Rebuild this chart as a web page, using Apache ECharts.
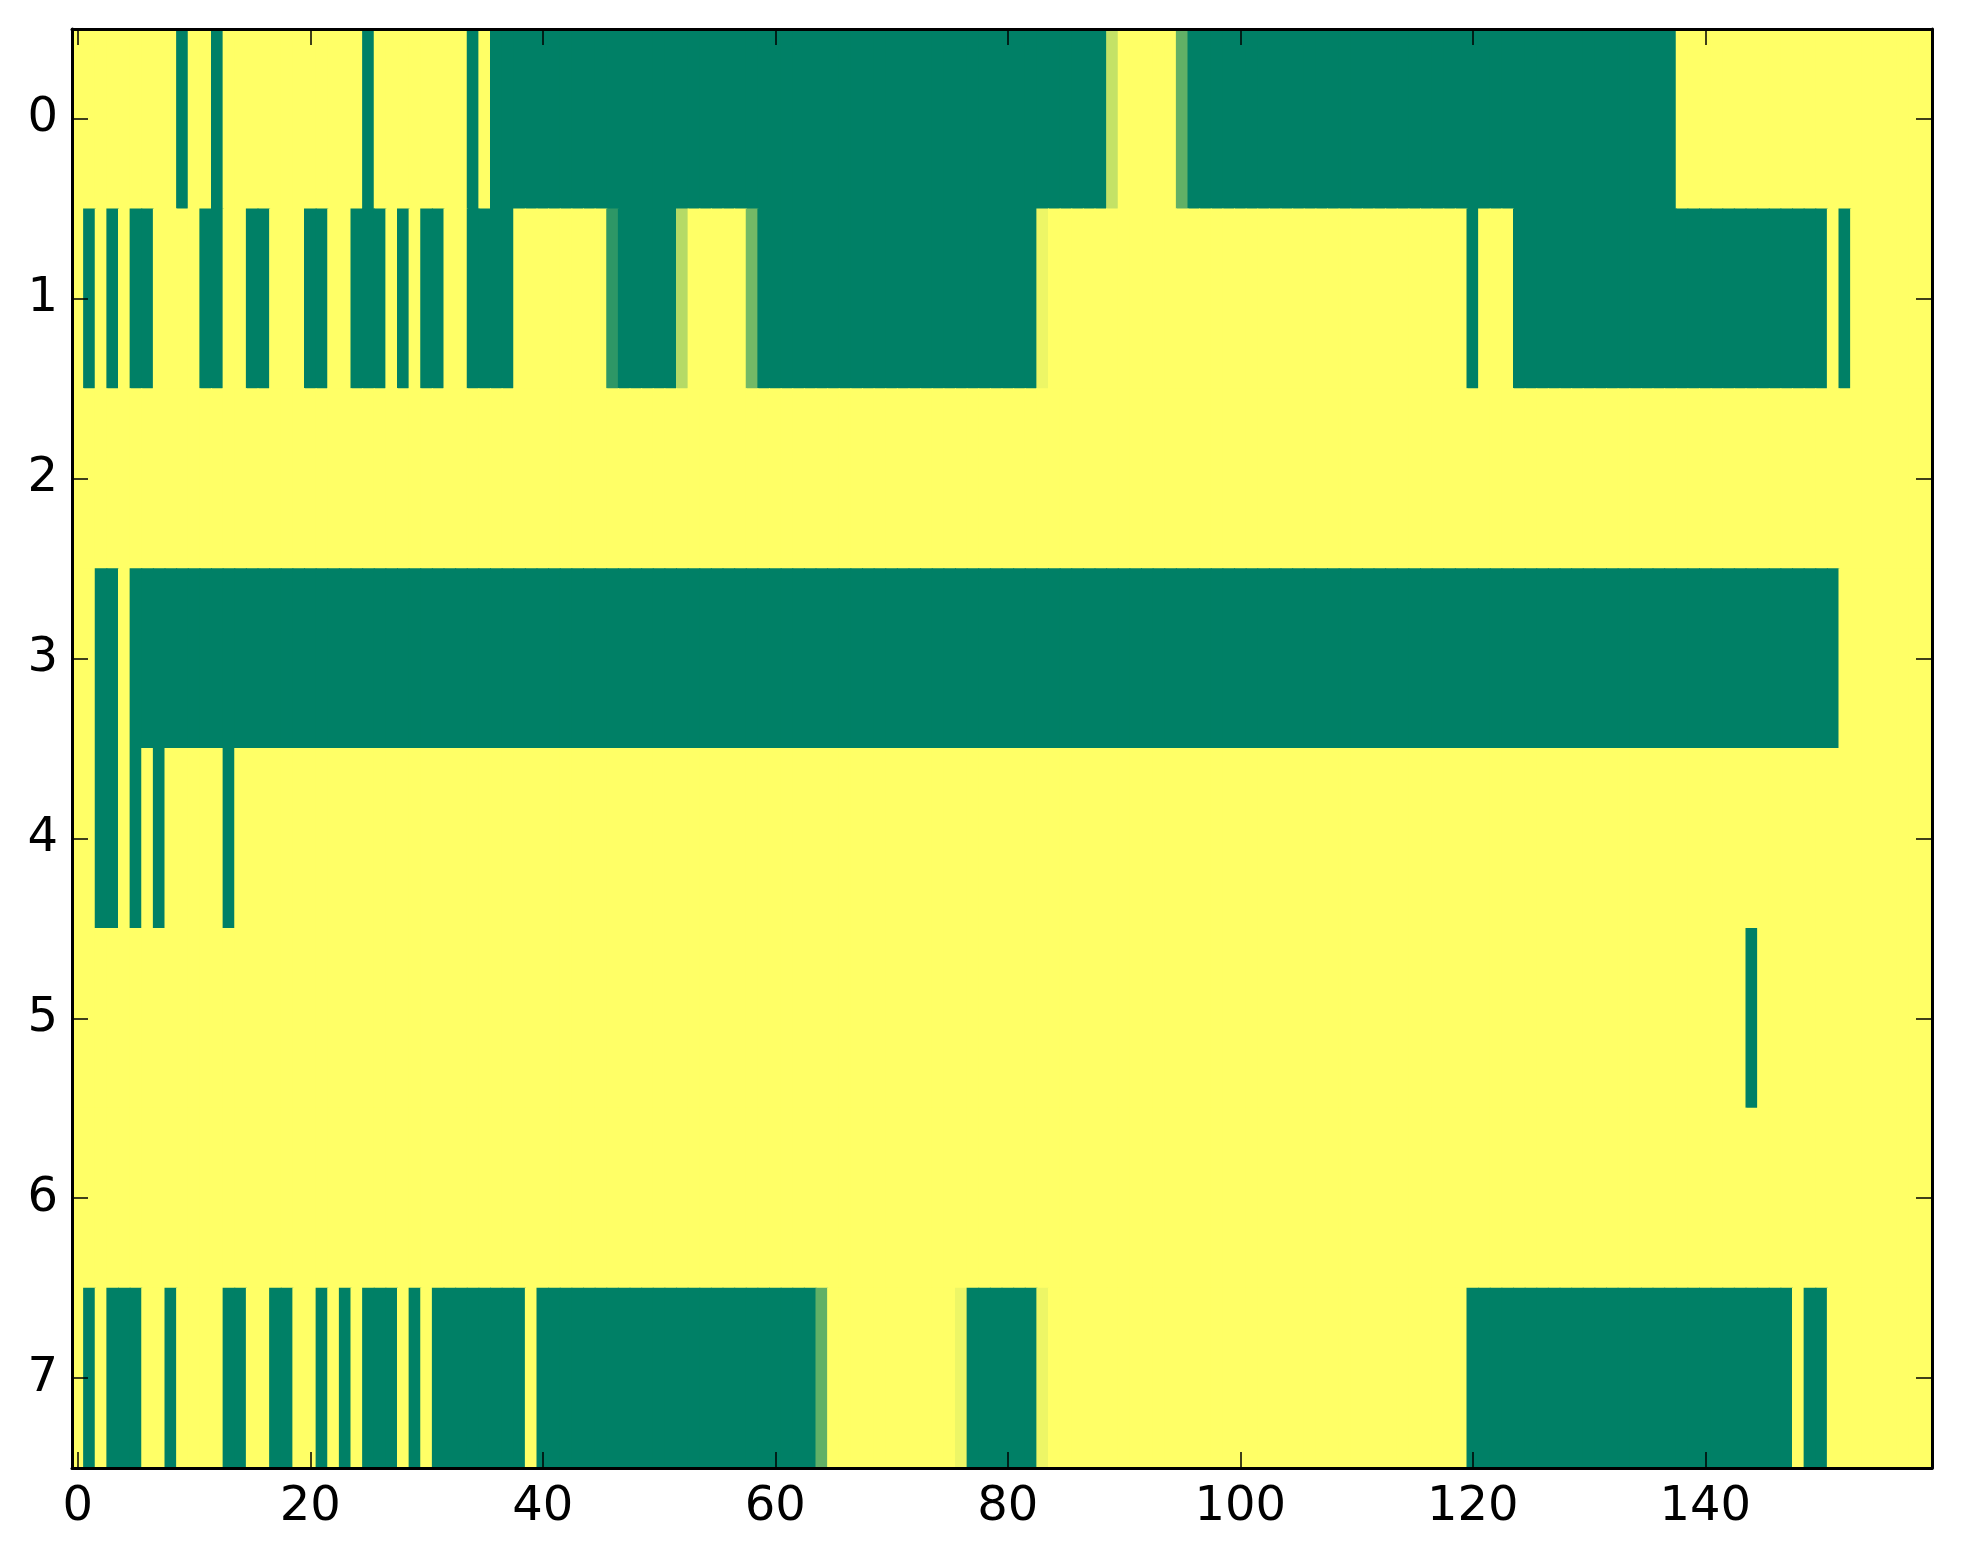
<!DOCTYPE html>
<html><head><meta charset="utf-8">
<script src="https://cdn.jsdelivr.net/npm/echarts@6/dist/echarts.min.js"></script>
<style>html,body{margin:0;padding:0;background:#fff}#c{width:1963px;height:1564px}</style>
</head><body><div id="c"></div>
<script>
// column categories 0..159 and row categories 0..7
const xCategories = Array.from({length: 160}, (_, i) => String(i));
const yCategories = ['0', '1', '2', '3', '4', '5', '6', '7'];
const xTickLabels = ['0', '20', '40', '60', '80', '100', '120', '140'];

const row0 = [
  0,0,0,0,0,0,0,0,0,1,
  0,0,1,0,0,0,0,0,0,0,
  0,0,0,0,0,1,0,0,0,0,
  0,0,0,0,1,0,1,1,1,1,
  1,1,1,1,1,1,1,1,1,1,
  1,1,1,1,1,1,1,1,1,1,
  1,1,1,1,1,1,1,1,1,1,
  1,1,1,1,1,1,1,1,1,1,
  1,1,1,1,1,1,1,1,1,0.23,
  0,0,0,0,0,0.62,1,1,1,1,
  1,1,1,1,1,1,1,1,1,1,
  1,1,1,1,1,1,1,1,1,1,
  1,1,1,1,1,1,1,1,1,1,
  1,1,1,1,1,1,1,1,0,0,
  0,0,0,0,0,0,0,0,0,0,
  0,0,0,0,0,0,0,0,0,0
];
const row1 = [
  0,1,0,1,0,1,1,0,0,0,
  0,1,1,0,0,1,1,0,0,0,
  1,1,0,0,1,1,1,0,1,0,
  1,1,0,0,1,1,1,1,0,0,
  0,0,0,0,0,0,0.82,1,1,1,
  1,1,0.29,0,0,0,0,0,0.55,1,
  1,1,1,1,1,1,1,1,1,1,
  1,1,1,1,1,1,1,1,1,1,
  1,1,1,0.07,0,0,0,0,0,0,
  0,0,0,0,0,0,0,0,0,0,
  0,0,0,0,0,0,0,0,0,0,
  0,0,0,0,0,0,0,0,0,0,
  1,0,0,0,1,1,1,1,1,1,
  1,1,1,1,1,1,1,1,1,1,
  1,1,1,1,1,1,1,1,1,1,
  1,0,1,0,0,0,0,0,0,0
];
const row2 = [
  0,0,0,0,0,0,0,0,0,0,
  0,0,0,0,0,0,0,0,0,0,
  0,0,0,0,0,0,0,0,0,0,
  0,0,0,0,0,0,0,0,0,0,
  0,0,0,0,0,0,0,0,0,0,
  0,0,0,0,0,0,0,0,0,0,
  0,0,0,0,0,0,0,0,0,0,
  0,0,0,0,0,0,0,0,0,0,
  0,0,0,0,0,0,0,0,0,0,
  0,0,0,0,0,0,0,0,0,0,
  0,0,0,0,0,0,0,0,0,0,
  0,0,0,0,0,0,0,0,0,0,
  0,0,0,0,0,0,0,0,0,0,
  0,0,0,0,0,0,0,0,0,0,
  0,0,0,0,0,0,0,0,0,0,
  0,0,0,0,0,0,0,0,0,0
];
const row3 = [
  0,0,1,1,0,1,1,1,1,1,
  1,1,1,1,1,1,1,1,1,1,
  1,1,1,1,1,1,1,1,1,1,
  1,1,1,1,1,1,1,1,1,1,
  1,1,1,1,1,1,1,1,1,1,
  1,1,1,1,1,1,1,1,1,1,
  1,1,1,1,1,1,1,1,1,1,
  1,1,1,1,1,1,1,1,1,1,
  1,1,1,1,1,1,1,1,1,1,
  1,1,1,1,1,1,1,1,1,1,
  1,1,1,1,1,1,1,1,1,1,
  1,1,1,1,1,1,1,1,1,1,
  1,1,1,1,1,1,1,1,1,1,
  1,1,1,1,1,1,1,1,1,1,
  1,1,1,1,1,1,1,1,1,1,
  1,1,0,0,0,0,0,0,0,0
];
const row4 = [
  0,0,1,1,0,1,0,1,0,0,
  0,0,0,1,0,0,0,0,0,0,
  0,0,0,0,0,0,0,0,0,0,
  0,0,0,0,0,0,0,0,0,0,
  0,0,0,0,0,0,0,0,0,0,
  0,0,0,0,0,0,0,0,0,0,
  0,0,0,0,0,0,0,0,0,0,
  0,0,0,0,0,0,0,0,0,0,
  0,0,0,0,0,0,0,0,0,0,
  0,0,0,0,0,0,0,0,0,0,
  0,0,0,0,0,0,0,0,0,0,
  0,0,0,0,0,0,0,0,0,0,
  0,0,0,0,0,0,0,0,0,0,
  0,0,0,0,0,0,0,0,0,0,
  0,0,0,0,0,0,0,0,0,0,
  0,0,0,0,0,0,0,0,0,0
];
const row5 = [
  0,0,0,0,0,0,0,0,0,0,
  0,0,0,0,0,0,0,0,0,0,
  0,0,0,0,0,0,0,0,0,0,
  0,0,0,0,0,0,0,0,0,0,
  0,0,0,0,0,0,0,0,0,0,
  0,0,0,0,0,0,0,0,0,0,
  0,0,0,0,0,0,0,0,0,0,
  0,0,0,0,0,0,0,0,0,0,
  0,0,0,0,0,0,0,0,0,0,
  0,0,0,0,0,0,0,0,0,0,
  0,0,0,0,0,0,0,0,0,0,
  0,0,0,0,0,0,0,0,0,0,
  0,0,0,0,0,0,0,0,0,0,
  0,0,0,0,0,0,0,0,0,0,
  0,0,0,0,1,0,0,0,0,0,
  0,0,0,0,0,0,0,0,0,0
];
const row6 = [
  0,0,0,0,0,0,0,0,0,0,
  0,0,0,0,0,0,0,0,0,0,
  0,0,0,0,0,0,0,0,0,0,
  0,0,0,0,0,0,0,0,0,0,
  0,0,0,0,0,0,0,0,0,0,
  0,0,0,0,0,0,0,0,0,0,
  0,0,0,0,0,0,0,0,0,0,
  0,0,0,0,0,0,0,0,0,0,
  0,0,0,0,0,0,0,0,0,0,
  0,0,0,0,0,0,0,0,0,0,
  0,0,0,0,0,0,0,0,0,0,
  0,0,0,0,0,0,0,0,0,0,
  0,0,0,0,0,0,0,0,0,0,
  0,0,0,0,0,0,0,0,0,0,
  0,0,0,0,0,0,0,0,0,0,
  0,0,0,0,0,0,0,0,0,0
];
const row7 = [
  0,1,0,1,1,1,0,0,1,0,
  0,0,0,1,1,0,0,1,1,0,
  0,1,0,1,0,1,1,1,0,1,
  0,1,1,1,1,1,1,1,1,0,
  1,1,1,1,1,1,1,1,1,1,
  1,1,1,1,1,1,1,1,1,1,
  1,1,1,1,0.62,0,0,0,0,0,
  0,0,0,0,0,0,0.07,1,1,1,
  1,1,1,0.07,0,0,0,0,0,0,
  0,0,0,0,0,0,0,0,0,0,
  0,0,0,0,0,0,0,0,0,0,
  0,0,0,0,0,0,0,0,0,0,
  1,1,1,1,1,1,1,1,1,1,
  1,1,1,1,1,1,1,1,1,1,
  1,1,1,1,1,1,1,1,0,1,
  1,0,0,0,0,0,0,0,0,0
];

const rows = [row0, row1, row2, row3, row4, row5, row6, row7];
const cells = [];
rows.forEach((r, y) => r.forEach((v, x) => cells.push([x, y, v])));

const FONT = 'DejaVu Sans';
const showX = (i) => xTickLabels.indexOf(String(i)) >= 0;
const lineStyle = {color: '#000', width: 3};
const tickStyle = {color: '#000', width: 1.5};

const chart = echarts.init(document.getElementById('c'), null, {renderer: 'canvas'});
chart.setOption({
  animation: false,
  backgroundColor: '#ffffff',
  grid: {left: 72, right: 31, top: 29, bottom: 96, containLabel: false},
  xAxis: [{
    type: 'category', data: xCategories, position: 'bottom',
    axisLine: {show: true, lineStyle: lineStyle},
    axisTick: {show: true, inside: true, length: 16, alignWithLabel: true, interval: showX, lineStyle: tickStyle},
    axisLabel: {interval: showX, fontSize: 48, fontFamily: FONT, color: '#000', margin: 16},
    splitLine: {show: false}, splitArea: {show: false}, z: 10
  }, {
    type: 'category', data: xCategories, position: 'top',
    axisLine: {show: true, lineStyle: lineStyle},
    axisTick: {show: true, inside: true, length: 16, alignWithLabel: true, interval: showX, lineStyle: tickStyle},
    axisLabel: {show: false},
    splitLine: {show: false}, z: 10
  }],
  yAxis: [{
    type: 'category', data: yCategories, inverse: true, position: 'left',
    axisLine: {show: true, lineStyle: lineStyle},
    axisTick: {show: true, inside: true, length: 16, alignWithLabel: true, interval: 0, lineStyle: tickStyle},
    axisLabel: {interval: 0, fontSize: 48, fontFamily: FONT, color: '#000', margin: 14},
    splitLine: {show: false}, splitArea: {show: false}, z: 10
  }, {
    type: 'category', data: yCategories, inverse: true, position: 'right',
    axisLine: {show: true, lineStyle: lineStyle},
    axisTick: {show: true, inside: true, length: 16, alignWithLabel: true, interval: 0, lineStyle: tickStyle},
    axisLabel: {show: false},
    splitLine: {show: false}, z: 10
  }],
  visualMap: {
    show: false, type: 'continuous', min: 0, max: 1, dimension: 2, seriesIndex: 0,
    inRange: {color: ['#ffff66', '#008066']}
  },
  series: [{
    type: 'custom', xAxisIndex: 0, yAxisIndex: 0, data: cells,
    encode: {x: 0, y: 1},
    clip: true,
    renderItem: function (params, api) {
      const c = api.coord([api.value(0), api.value(1)]);
      const s = api.size([1, 1]);
      return {
        type: 'rect',
        shape: {x: c[0] - s[0] / 2 - 0.5, y: c[1] - s[1] / 2 - 0.5, width: s[0] + 1, height: s[1] + 1},
        style: {fill: api.visual('color'), stroke: null}
      };
    },
    emphasis: {disabled: true}
  }]
});
</script></body></html>
